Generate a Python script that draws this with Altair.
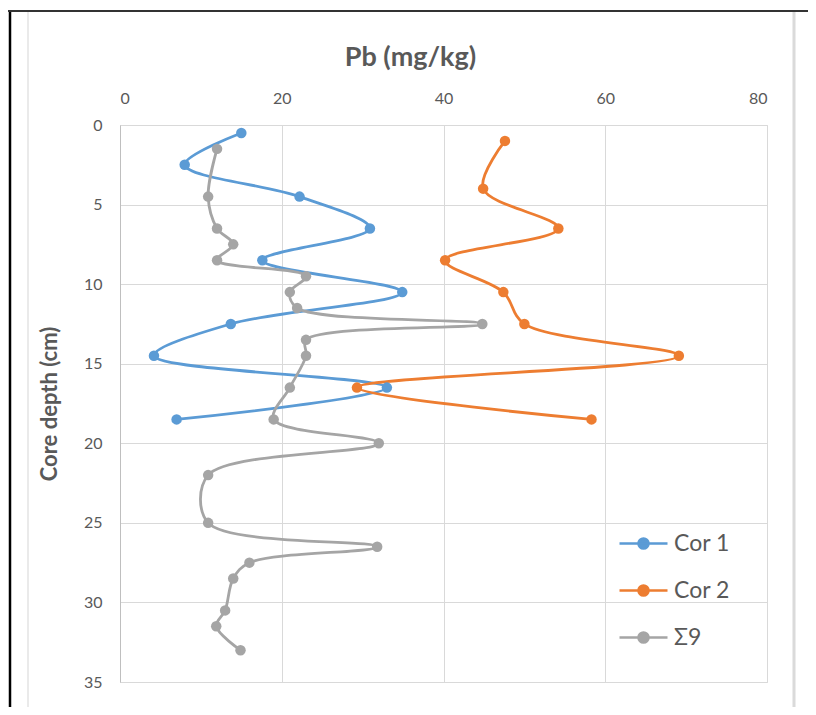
import altair as alt
import pandas as pd

series_names = ["Cor 1", "Cor 2", "Σ9"]
colors = ["#5B9BD5", "#ED7D31", "#A5A5A5"]

cor1_depth = [0.5, 2.5, 4.5, 6.5, 8.5, 10.5, 12.5, 14.5, 16.5, 18.5]
cor1_pb = [15.0, 8.0, 22.2, 30.9, 17.6, 34.9, 13.7, 4.2, 33.0, 7.0]

cor2_depth = [1.0, 4.0, 6.5, 8.5, 10.5, 12.5, 14.5, 16.5, 18.5]
cor2_pb = [47.6, 44.9, 54.2, 40.2, 47.4, 50.0, 69.1, 29.3, 58.3]

s9_depth = [1.5, 4.5, 6.5, 7.5, 8.5, 9.5, 10.5, 11.5, 12.5, 13.5, 14.5,
            16.5, 18.5, 20.0, 22.0, 25.0, 26.5, 27.5, 28.5, 30.5, 31.5, 33.0]
s9_pb = [12.0, 10.9, 12.0, 14.0, 12.0, 23.0, 21.0, 21.9, 44.8, 23.0, 23.0,
         21.0, 19.0, 32.0, 10.9, 10.9, 31.8, 16.0, 14.0, 13.0, 11.9, 14.9]

x_ticks = [0, 20, 40, 60, 80]
y_ticks = [0, 5, 10, 15, 20, 25, 30, 35]

rows = []
for name, depths, vals in zip(series_names, [cor1_depth, cor2_depth, s9_depth],
                              [cor1_pb, cor2_pb, s9_pb]):
    for d, v in zip(depths, vals):
        rows.append({"series": name, "depth": d, "pb": v})
df = pd.DataFrame(rows)

FONT = "Lato"
LABEL_COLOR = "#595959"
GRID = "#D9D9D9"

legend_path = "M-1,0H1M0.21,0A0.21,0.21,0,1,1,-0.21,0A0.21,0.21,0,1,1,0.21,0Z"

color_scale = alt.Scale(domain=series_names, range=colors)

base = alt.Chart(df).encode(
    x=alt.X("pb:Q", scale=alt.Scale(domain=[0, 80], nice=False),
            axis=alt.Axis(orient="top", values=x_ticks, title=None, grid=True,
                          gridColor=GRID, domain=False, ticks=False,
                          labelFontSize=16, labelColor=LABEL_COLOR,
                          labelFont=FONT, labelPadding=19)),
    y=alt.Y("depth:Q", scale=alt.Scale(domain=[0, 35], reverse=True, nice=False),
            axis=alt.Axis(values=y_ticks, title="Core depth (cm)", grid=True,
                          gridColor=GRID, domainColor="#BFBFBF", ticks=False,
                          labelFontSize=16, labelColor=LABEL_COLOR,
                          labelFont=FONT, labelPadding=18,
                          titleFont=FONT, titleFontSize=22, titleFontWeight="bold",
                          titleColor=LABEL_COLOR, titlePadding=22)),
    color=alt.Color("series:N", scale=color_scale, sort=series_names,
                    legend=alt.Legend(
                        title=None, orient="none", legendX=498, legendY=393,
                        symbolType=legend_path, symbolSize=2304,
                        symbolStrokeWidth=2.5, labelFontSize=23,
                        labelFont=FONT, labelColor=LABEL_COLOR,
                        rowPadding=9, labelOffset=5)),
    order=alt.Order("depth:Q"),
)

lines = base.mark_line(interpolate="catmull-rom", strokeWidth=2.8)
points = base.mark_circle(size=110, opacity=1)

# decorative page frame (document border and Excel chart-area border)
frame_src = alt.Chart(pd.DataFrame({"k": [0]}))
frame_left_black = frame_src.mark_rule(color="black", strokeWidth=2.5).encode(
    x=alt.value(-110), y=alt.value(-115), y2=alt.value(590))
frame_top_black = frame_src.mark_rule(color="#333333", strokeWidth=2).encode(
    x=alt.value(-112), x2=alt.value(690), y=alt.value(-114))
frame_left_gray = frame_src.mark_rule(color="#E3E3E3", strokeWidth=1.5).encode(
    x=alt.value(-92), y=alt.value(-113), y2=alt.value(590))
frame_right_gray = frame_src.mark_rule(color="#DADADA", strokeWidth=3).encode(
    x=alt.value(674), y=alt.value(-113), y2=alt.value(590))

chart = alt.layer(frame_left_gray, frame_right_gray, frame_left_black,
                  frame_top_black, lines, points).properties(
    width=647, height=557,
    autosize="none",
    padding={"left": 112, "top": 117, "right": 41, "bottom": 25},
    title=alt.TitleParams("Pb (mg/kg)", font=FONT, fontSize=27,
                          fontWeight="bold", color=LABEL_COLOR,
                          anchor="middle", dx=-33, offset=0, dy=63),
).configure_view(stroke=None).configure(background="white")

chart.save("out.html", embed_options={"renderer": "svg", "actions": False})
